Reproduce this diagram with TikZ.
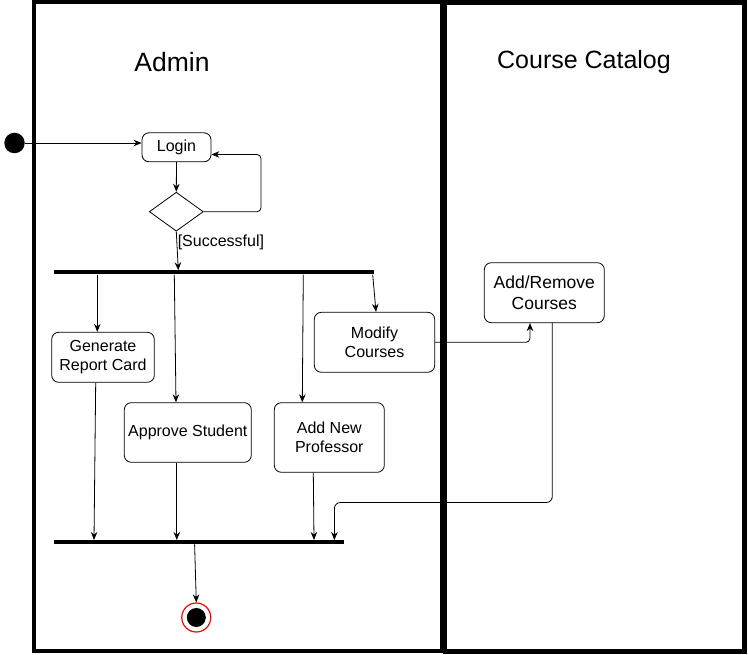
\documentclass[tikz,border=0pt]{standalone}
\usepackage{fontspec}
\setmainfont{Liberation Sans}
\usetikzlibrary{arrows.meta,shapes.geometric}

\begin{document}
\begin{tikzpicture}[
    x=1pt, y=-1pt,
    act/.style={draw, rounded corners=7pt, line width=0.8pt, align=center, font=\fontsize{16}{19}\selectfont, inner sep=2pt},
    bar/.style={fill=black, inner sep=0pt, minimum height=4pt},
    lane/.style={draw, line width=4pt},
    title/.style={font=\fontsize{25}{29}\selectfont},
    arr/.style={-{Stealth[length=8pt,width=6.5pt]}, line width=0.8pt},
]
\useasboundingbox (0,0) rectangle (748,655);

% Swimlanes
\draw[lane, line width=3.5pt] (34,2) rectangle (442,651);
\draw[lane, line width=4.5pt] (445,2.5) rectangle (744.5,651.5);
\node[title, font=\fontsize{26.5}{29}\selectfont] (adm) at (172,62) {Admin};
\node[title] (cat) at (584,62) {Course Catalog};

% Nodes
\node (start) [circle, fill=black, minimum size=20.5pt, inner sep=0pt] at (14.5,143) {};
\node (login) [act, minimum width=69pt, minimum height=29pt] at (176.5,147.3) {Login};
\node (dec) [diamond, draw, line width=0.8pt, minimum width=54pt, minimum height=39pt, inner sep=0pt] at (176.3,211.7) {};
\node (fork) [bar, minimum width=320pt] at (214.3,272.5) {};
\node (gen) [act, minimum width=102.6pt, minimum height=50pt] at (103,357.3) {Generate\\Report Card};
\node (appr) [act, minimum width=127pt, minimum height=59.6pt] at (187.8,432.5) {Approve Student};
\node (prof) [act, minimum width=110pt, minimum height=69.6pt] at (329.3,437.5) {Add New\\Professor};
\node (modc) [act, minimum width=120.4pt, minimum height=60pt] at (374.5,342.3) {Modify\\Courses};
\node (addrem) [act, minimum width=120pt, minimum height=60pt, font=\fontsize{17.5}{21}\selectfont] at (544.3,292.7) {Add/Remove\\Courses};
\node (join) [bar, minimum width=290pt] at (199.3,542.2) {};
\node (fin) [circle, draw=red, line width=1.2pt, fill=white, minimum size=29pt, inner sep=0pt] at (196.3,617.5) {};
\node (findot) [circle, fill=black, minimum size=19pt, inner sep=0pt] at (fin) {};

% Login and decision
\draw[arr] (start.east) -- (start.east -| login.west);
\draw[arr] (login.south) -- (dec.north);
\coordinate (loop) at (261,154.5);
\draw[arr, rounded corners=4pt] (dec.east) -| (loop) -- (loop -| login.east);
\draw[arr] (dec.south) -- node[pos=0.28, right, inner sep=0.5pt, font=\fontsize{16}{19}\selectfont] {[Successful]} ([xshift=2pt]dec.south |- fork.north);

% Fork
\draw[arr] ([xshift=-5.7pt]gen.north |- fork.south) -- ([xshift=-5.7pt]gen.north);
\draw[arr] ([xshift=-13.5pt]appr.north |- fork.south) -- ([xshift=-11.8pt]appr.north);
\draw[arr] ([xshift=-26pt]prof.north |- fork.south) -- ([xshift=-27pt]prof.north);
\draw[arr] ([xshift=-1.8pt]modc.north |- fork.south) -- ([xshift=1.5pt]modc.north);

% Course catalog
\draw[arr, rounded corners=4pt] (modc.east) -| ([xshift=-14.3pt]addrem.south);
\coordinate (bend) at (334.4,502.5);
\draw[arr, rounded corners=6pt] ([xshift=8pt]addrem.south) |- (bend) -- (bend |- join.north);

% Join
\draw[arr] ([xshift=-7.3pt]gen.south) -- ([xshift=-9pt]gen.south |- join.north);
\draw[arr] ([xshift=-11pt]appr.south) -- ([xshift=-11pt]appr.south |- join.north);
\draw[arr] ([xshift=-16pt]prof.south) -- ([xshift=-15.3pt]prof.south |- join.north);
\draw[arr] ([xshift=-4.7pt]join.south) -- (fin.north);
\end{tikzpicture}
\end{document}
